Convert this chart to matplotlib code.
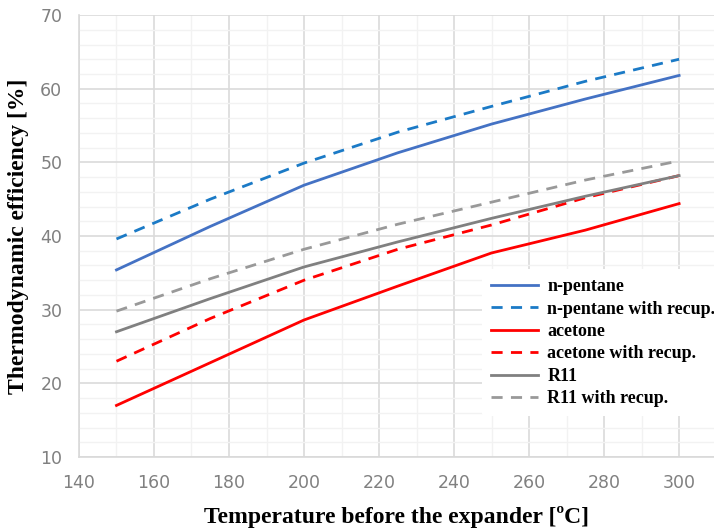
import matplotlib
matplotlib.use('Agg')
import matplotlib.pyplot as plt
from matplotlib.ticker import MultipleLocator

temps = [150, 175, 200, 225, 250, 275, 300]

eff_pentane = [35.4, 41.3, 46.9, 51.3, 55.2, 58.6, 61.8]
eff_pentane_rec = [39.6, 45.0, 49.9, 54.1, 57.6, 61.0, 64.0]
eff_acetone = [17.0, 22.8, 28.6, 33.2, 37.7, 40.8, 44.4]
eff_acetone_rec = [23.0, 28.8, 34.0, 38.2, 41.5, 45.2, 48.2]
eff_r11 = [27.0, 31.5, 35.8, 39.2, 42.4, 45.4, 48.2]
eff_r11_rec = [29.8, 34.2, 38.2, 41.6, 44.6, 47.6, 50.2]

fig = plt.figure(figsize=(7.14, 5.28), dpi=100)
ax = fig.add_axes([0.1106, 0.1345, 0.8894, 0.837])

ax.plot(temps, eff_pentane, '-', color='#4472C4', lw=2, label='n-pentane')
ax.plot(temps, eff_pentane_rec, '--', color='#1B7AC6', lw=2, dashes=(4, 3),
        label='n-pentane with recup.')
ax.plot(temps, eff_acetone, '-', color='#FF0000', lw=2, label='acetone')
ax.plot(temps, eff_acetone_rec, '--', color='#FF0000', lw=2, dashes=(4, 3),
        label='acetone with recup.')
ax.plot(temps, eff_r11, '-', color='#808080', lw=2, label='R11')
ax.plot(temps, eff_r11_rec, '--', color='#999999', lw=2, dashes=(4, 3),
        label='R11 with recup.')

ax.set_xlim(140, 309.3)
ax.set_ylim(10, 70)
ax.xaxis.set_major_locator(MultipleLocator(20))
ax.xaxis.set_minor_locator(MultipleLocator(10))
ax.yaxis.set_major_locator(MultipleLocator(10))
ax.yaxis.set_minor_locator(MultipleLocator(2))
ax.grid(True, which='major', color='#DADADA', lw=1.2)
ax.grid(True, which='minor', color='#F2F2F2', lw=1.0)
ax.set_axisbelow(True)

for s in ['top', 'right']:
    ax.spines[s].set_visible(False)
for s in ['left', 'bottom']:
    ax.spines[s].set_color('#D9D9D9')
    ax.spines[s].set_linewidth(1.2)

ax.tick_params(which='both', length=0, labelsize=12.5, labelcolor='#808080')
ax.tick_params(axis='x', pad=12)
ax.tick_params(axis='y', pad=12)

ax.set_xlabel('Temperature before the expander [ºC]', family='Liberation Serif',
              fontweight='bold', fontsize=17, labelpad=10)
ax.set_ylabel('Thermodynamic efficiency [%]', family='Liberation Serif',
              fontweight='bold', fontsize=17, labelpad=8)

leg = ax.legend(loc='upper left', bbox_to_anchor=(0.635, 0.425), frameon=True,
                facecolor='white', edgecolor='none', framealpha=1,
                prop={'family': 'Liberation Serif', 'weight': 'bold', 'size': 13},
                handlelength=2.6, handletextpad=0.5, labelspacing=0.3,
                borderpad=0.5, borderaxespad=0)

fig.savefig('out.png', dpi=100)
